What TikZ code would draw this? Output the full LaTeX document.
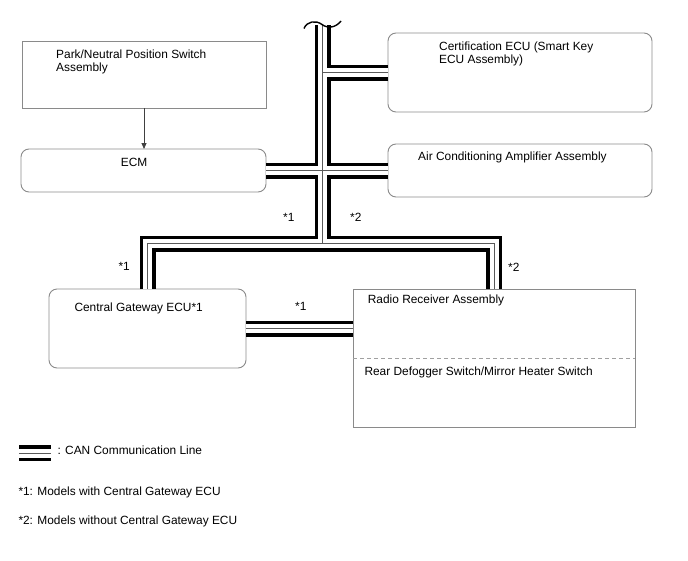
\documentclass[tikz,border=0pt]{standalone}
\usepackage{fontspec}
\setmainfont{Liberation Sans}
\usetikzlibrary{arrows.meta, calc}
\definecolor{boxline}{HTML}{8A8A8A}
\definecolor{dashline}{HTML}{A0A0A0}
\definecolor{wirecore}{HTML}{5A5A5A}

\begin{document}
\begin{tikzpicture}[
    x=1pt, y=-1pt,
    box/.style={rectangle, draw=boxline, line width=0.9pt, outer sep=0pt,
                inner sep=0pt, anchor=north west},
    rbox/.style={box, rounded corners=8pt},
    txt/.style={inner sep=0pt, anchor=base west, align=left,
                font=\fontsize{11.9}{13.4}\selectfont},
    canline/.style={line width=16pt, draw=black,
                postaction={draw=white, line width=9pt},
                postaction={draw=wirecore, line width=0.8pt}},
    arrow/.style={-{Triangle[length=6pt, width=5pt]}, draw=black!75, line width=0.8pt}
  ]
    \useasboundingbox (0,0) rectangle (688,560);

    % units
    \node[box, minimum width=244pt, minimum height=67pt] (pnp) at (22,41) {};
    \node[rbox, minimum width=245pt, minimum height=43pt] (ecm) at (21,149) {};
    \node[rbox, minimum width=264pt, minimum height=79pt] (cert) at (388,33) {};
    \node[rbox, minimum width=264pt, minimum height=53pt] (aircon) at (388,144) {};
    \node[rbox, minimum width=197pt, minimum height=79pt] (gateway) at (49,289) {};
    \node[box, minimum width=282pt, minimum height=138pt] (radio) at (353,289) {};
    \draw[dashline, line width=0.9pt, dash pattern=on 4pt off 3pt]
      (radio.west |- 0,358) -- (radio.east |- 0,358);

    % base of a two-line text is its last line
    \node[txt] (pnptext) at (56,71.7) {Park/Neutral Position Switch\\Assembly};
    \node[txt] (ecmtext) at (120.7,166.7) {ECM};
    \node[txt] (certtext) at (439,63.4) {Certification ECU (Smart Key\\ECU Assembly)};
    \node[txt] (aircontext) at (418,160) {Air Conditioning Amplifier Assembly};
    \node[txt] (gatewaytext) at (74.3,311.5) {Central Gateway ECU*1};
    \node[txt] (radiotext) at (367.7,303.3) {Radio Receiver Assembly};
    \node[txt] (defogtext) at (364.3,375) {Rear Defogger Switch/Mirror Heater Switch};

    % CAN bus
    \coordinate (bustop) at (322.5,25);
    \coordinate (busjoin) at (322.5,243.5);
    \draw[canline] (bustop) -- (busjoin)
      (cert.west) -- (cert.west -| bustop)
      (ecm.east) -- (aircon.west)
      (gateway.north) |- (busjoin) -| (radio.north);
    \draw[canline] (gateway.east) -- (gateway.east -| radio.west);
    \draw[line width=1.4pt] (304,28.5) .. controls (307,21) and (316,20) .. (322,24.5)
      .. controls (328,29) and (336,27.5) .. (341,21);

    \draw[arrow] (pnp.south) -- (pnp.south |- ecm.north);

    \node[txt] (tag1a) at (283,221.7) {*1};
    \node[txt] (tag2a) at (350,221.7) {*2};
    \node[txt] (tag1b) at (118.3,270.7) {*1};
    \node[txt] (tag2b) at (508,271.7) {*2};
    \node[txt] (tag1c) at (295,310) {*1};

    % legend
    \coordinate (legA) at (19,453);
    \coordinate (legB) at (51,453);
    \draw[canline] (legA) -- (legB);
    \node[txt] (legtext) at (57.3,454) {: CAN Communication Line};
    \node[txt] (note1) at (18.3,495.7) {*1: Models with Central Gateway ECU};
    \node[txt] (note2) at (18.3,524.3) {*2: Models without Central Gateway ECU};
  \end{tikzpicture}
\end{document}
